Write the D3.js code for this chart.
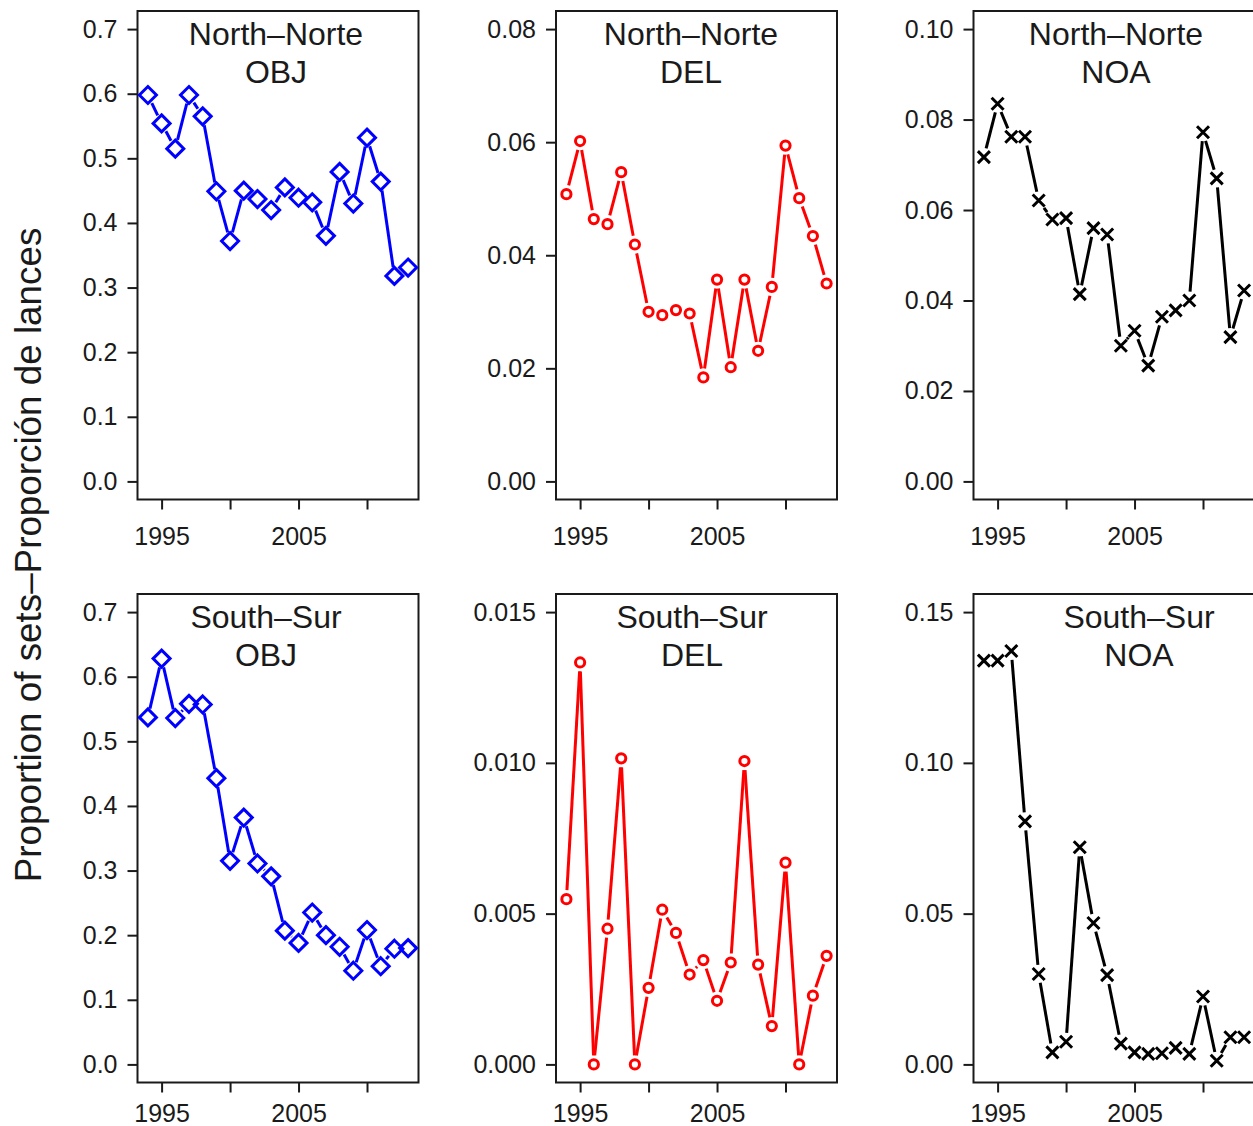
<!DOCTYPE html>
<html>
<head>
<meta charset="utf-8">
<script src="https://cdn.jsdelivr.net/npm/d3@7"></script>
<style>
  body { margin: 0; background: #fff; }
  svg { display: block; font-family: "Liberation Sans", Arial, sans-serif; }
</style>
</head>
<body>
<div id="chart"></div>
<script>
// data, one value per year
const years = [1994, 1995, 1996, 1997, 1998, 1999, 2000, 2001, 2002, 2003,
               2004, 2005, 2006, 2007, 2008, 2009, 2010, 2011, 2012, 2013];

const north_obj = [0.598, 0.554, 0.515, 0.598, 0.565, 0.449, 0.372, 0.450, 0.437, 0.420,
                   0.455, 0.439, 0.432, 0.380, 0.479, 0.430, 0.532, 0.464, 0.318, 0.331];
const north_del = [0.0508, 0.0602, 0.0464, 0.0455, 0.0547, 0.0419, 0.0300, 0.0294, 0.0303, 0.0297,
                   0.0184, 0.0357, 0.0202, 0.0357, 0.0231, 0.0344, 0.0594, 0.0501, 0.0434, 0.0350];
const north_noa = [0.0717, 0.0835, 0.0762, 0.0762, 0.0621, 0.0579, 0.0582, 0.0414, 0.0560, 0.0546,
                   0.0300, 0.0333, 0.0256, 0.0364, 0.0378, 0.0400, 0.0772, 0.0670, 0.0319, 0.0422];
const south_obj = [0.537, 0.628, 0.536, 0.558, 0.557, 0.443, 0.315, 0.382, 0.311, 0.291,
                   0.207, 0.188, 0.235, 0.200, 0.182, 0.145, 0.208, 0.152, 0.179, 0.180];
const south_del = [0.00548, 0.01333, 0.0, 0.00450, 0.01015, 0.0, 0.00254, 0.00513, 0.00436, 0.00298,
                   0.00346, 0.00211, 0.00338, 0.01006, 0.00331, 0.00127, 0.00669, 0.0, 0.00228, 0.00360];
const south_noa = [0.1339, 0.1339, 0.1371, 0.0806, 0.0300, 0.0040, 0.0075, 0.0720, 0.0469, 0.0296,
                   0.0069, 0.0040, 0.0035, 0.0037, 0.0055, 0.0035, 0.0225, 0.0012, 0.0090, 0.0090];

const year_ticks = [1995, 2000, 2005, 2010];
const year_labels = ["1995", "", "2005", ""];

const obj_ticks = [0, 0.1, 0.2, 0.3, 0.4, 0.5, 0.6, 0.7];
const north_del_ticks = [0, 0.02, 0.04, 0.06, 0.08];
const north_noa_ticks = [0, 0.02, 0.04, 0.06, 0.08, 0.10];
const south_del_ticks = [0, 0.005, 0.010, 0.015];
const south_noa_ticks = [0, 0.05, 0.10, 0.15];

const regions = ["North\u2013Norte", "South\u2013Sur"];
const gears = ["OBJ", "DEL", "NOA"];

const y_label = "Proportion of sets\u2013Proporci\u00f3n de lances";

// layout
const W = 1253, H = 1126;
const col_left = [137.5, 556, 973.5];
const row_top = [11, 594];
const box_w = 281, box_h = 488.5;
const title_x = [[276, 691, 1116], [266, 692, 1139]];
const x_label_pad = [18, 12];
const tick_len = 10;
const lwd = 3;
const text_col = "#1a1a1a";

const panels = [
  { row: 0, col: 0, vals: north_obj, ticks: obj_ticks, fmt: ".1f", color: "#0000ff", pch: "diamond" },
  { row: 0, col: 1, vals: north_del, ticks: north_del_ticks, fmt: ".2f", color: "#ff0000", pch: "circle" },
  { row: 0, col: 2, vals: north_noa, ticks: north_noa_ticks, fmt: ".2f", color: "#000000", pch: "cross" },
  { row: 1, col: 0, vals: south_obj, ticks: obj_ticks, fmt: ".1f", color: "#0000ff", pch: "diamond" },
  { row: 1, col: 1, vals: south_del, ticks: south_del_ticks, fmt: ".3f", color: "#ff0000", pch: "circle" },
  { row: 1, col: 2, vals: south_noa, ticks: south_noa_ticks, fmt: ".2f", color: "#000000", pch: "cross" }
];

const svg = d3.select("#chart").append("svg")
  .attr("width", W)
  .attr("height", H);

svg.append("text")
  .attr("transform", `translate(41, 555) rotate(-90)`)
  .attr("text-anchor", "middle")
  .attr("font-size", 36.8)
  .attr("fill", text_col)
  .text(y_label);

const draw_panel = p => {
  const left = col_left[p.col], top = row_top[p.row];
  const g = svg.append("g").attr("transform", `translate(${left},${top})`);

  // R style 4% padding on both axes
  const x_pad = (d3.max(years) - d3.min(years)) * 0.04;
  const x_scale = d3.scaleLinear()
    .domain([d3.min(years) - x_pad, d3.max(years) + x_pad])
    .range([0, box_w]);
  const y_max = d3.max(p.ticks);
  const y_scale = d3.scaleLinear()
    .domain([-y_max * 0.04, y_max * 1.04])
    .range([box_h, 0]);

  const y_axis = d3.axisLeft(y_scale)
    .tickValues(p.ticks)
    .tickFormat(d3.format(p.fmt))
    .tickSize(tick_len)
    .tickPadding(10);
  const x_axis = d3.axisBottom(x_scale)
    .tickValues(year_ticks)
    .tickFormat((d, i) => year_labels[i])
    .tickSize(tick_len)
    .tickPadding(x_label_pad[p.row]);

  const ya = g.append("g").call(y_axis);
  const xa = g.append("g").attr("transform", `translate(0,${box_h})`).call(x_axis);
  [ya, xa].forEach(a => {
    a.select(".domain").remove();
    a.selectAll("line").attr("stroke", text_col).attr("stroke-width", 2);
    a.selectAll("text").attr("font-size", 25).attr("fill", text_col)
      .attr("font-family", "Liberation Sans, Arial, sans-serif");
  });

  g.append("rect")
    .attr("width", box_w)
    .attr("height", box_h)
    .attr("fill", "none")
    .attr("stroke", text_col)
    .attr("stroke-width", 2);

  // titles
  const tx = title_x[p.row][p.col] - left;
  g.append("text").attr("x", tx).attr("y", 23).attr("dy", "0.35em")
    .attr("text-anchor", "middle").attr("font-size", 32).attr("fill", text_col)
    .text(regions[p.row]);
  g.append("text").attr("x", tx).attr("y", 61).attr("dy", "0.35em")
    .attr("text-anchor", "middle").attr("font-size", 32).attr("fill", text_col)
    .text(gears[p.col]);

  // type = "b": segments with gaps around the points
  const pts = years.map((yr, i) => [x_scale(yr), y_scale(p.vals[i])]);
  const gap = 9;
  const segs = [];
  for (let i = 0; i < pts.length - 1; i++) {
    const [x0, y0] = pts[i], [x1, y1] = pts[i + 1];
    const d = Math.hypot(x1 - x0, y1 - y0);
    if (d <= gap * 2) continue;
    const ux = (x1 - x0) / d, uy = (y1 - y0) / d;
    segs.push([[x0 + ux * gap, y0 + uy * gap], [x1 - ux * gap, y1 - uy * gap]]);
  }
  g.selectAll(".seg").data(segs).enter().append("path")
    .attr("class", "seg")
    .attr("d", d3.line())
    .attr("fill", "none")
    .attr("stroke", p.color)
    .attr("stroke-width", lwd);

  const marks = g.selectAll(".mark").data(pts).enter().append("g")
    .attr("class", "mark")
    .attr("transform", d => `translate(${d[0]},${d[1]})`);
  if (p.pch === "diamond") {
    marks.append("path").attr("d", "M0,-8.5L8.5,0L0,8.5L-8.5,0Z")
      .attr("fill", "none").attr("stroke", p.color).attr("stroke-width", lwd);
  } else if (p.pch === "circle") {
    marks.append("circle").attr("r", 4.6)
      .attr("fill", "none").attr("stroke", p.color).attr("stroke-width", lwd);
  } else {
    marks.append("path").attr("d", "M-6,-6L6,6M-6,6L6,-6")
      .attr("fill", "none").attr("stroke", p.color).attr("stroke-width", lwd);
  }
};

panels.forEach(draw_panel);
</script>
</body>
</html>
